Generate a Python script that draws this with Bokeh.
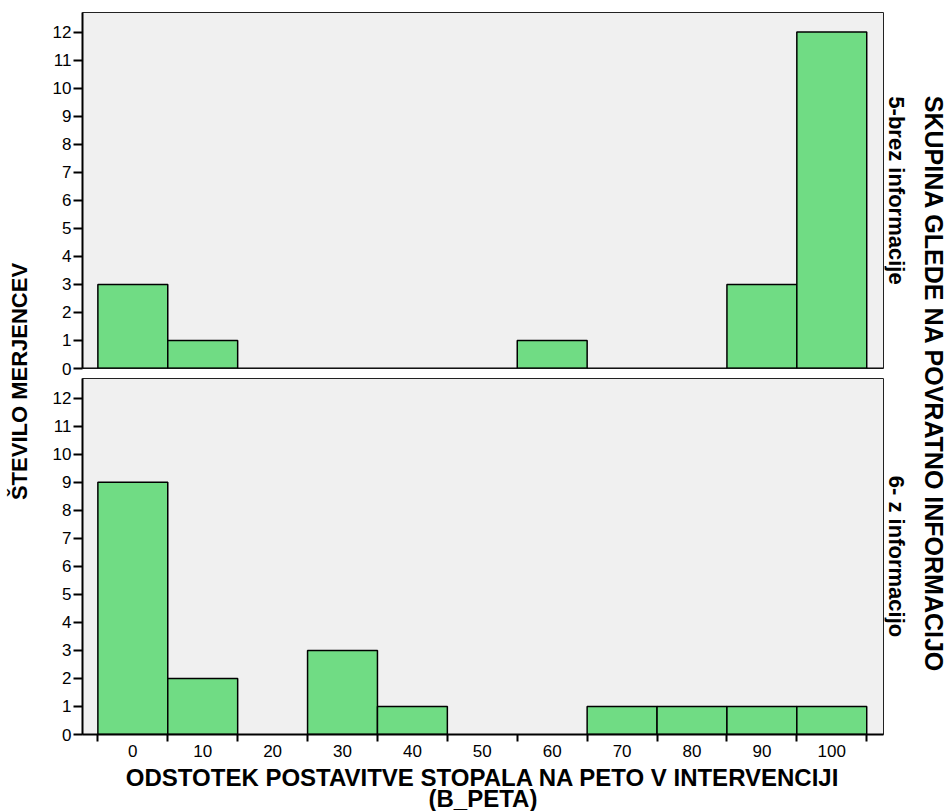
import numpy as np
from bokeh.plotting import figure
from bokeh.layouts import row, column
from bokeh.models import FixedTicker, Label, Range1d, Span, ColumnDataSource
from bokeh.embed import file_html
from bokeh.resources import INLINE

# ---- data ----
bin_centers = [0, 10, 20, 30, 40, 50, 60, 70, 80, 90, 100]
counts_brez = [3, 1, 0, 0, 0, 0, 1, 0, 0, 3, 12]     # 5-brez informacije
counts_z = [9, 2, 0, 3, 1, 0, 0, 1, 1, 1, 1]         # 6- z informacijo
bin_edges = [-5, 5, 15, 25, 35, 45, 55, 65, 75, 85, 95, 105]
y_ticks = list(range(0, 13))
panel_labels = ["5-brez informacije", "6- z informacijo"]
x_title = "ODSTOTEK POSTAVITVE STOPALA NA PETO V INTERVENCIJI\n(B_PETA)"
y_title = "ŠTEVILO MERJENCEV"
group_title = "SKUPINA GLEDE NA POVRATNO INFORMACIJO"
bin_width = 10

FONT = "Liberation Sans"
BAR = "#70DC84"
PANEL_BG = "#F0F0F0"

xr = Range1d(-7.2, 107.4)
Y_END = 12.7
FRAME_W, FRAME_H = 801, 356


def panel(counts, show_x, top_border, bottom_border):
    p = figure(frame_width=FRAME_W, frame_height=FRAME_H, x_range=xr,
               y_range=Range1d(0, Y_END), output_backend="svg",
               toolbar_location=None,
               x_axis_location="below" if show_x else None,
               min_border_left=42, min_border_right=1,
               min_border_top=top_border, min_border_bottom=bottom_border)
    p.background_fill_color = PANEL_BG
    p.border_fill_color = "white"
    p.outline_line_color = "#222222"
    p.outline_line_width = 1
    p.grid.visible = False

    xs = [c for c, n in zip(bin_centers, counts) if n > 0]
    ns = [n for n in counts if n > 0]
    src = ColumnDataSource(dict(x=xs, top=ns))
    p.vbar(x="x", top="top", bottom=0, width=bin_width, source=src,
           fill_color=BAR, line_color="black", line_width=1.5)

    ya = p.yaxis[0]
    ya.ticker = FixedTicker(ticks=y_ticks)
    ya.major_tick_in = 0
    ya.major_tick_out = 9
    ya.minor_tick_in = 0
    ya.minor_tick_out = 0
    ya.major_tick_line_width = 2
    ya.axis_line_width = 2
    ya.major_label_text_font = FONT
    ya.major_label_text_font_size = "17px"
    ya.major_label_text_color = "black"
    ya.major_label_standoff = 2

    if show_x:
        xa = p.xaxis[0]
        xa.ticker = FixedTicker(ticks=bin_centers, minor_ticks=bin_edges)
        xa.major_tick_in = 0
        xa.major_tick_out = 7
        xa.major_tick_line_color = None
        xa.minor_tick_in = 0
        xa.minor_tick_out = 7
        xa.minor_tick_line_color = "black"
        xa.minor_tick_line_width = 2
        xa.axis_line_width = 2
        xa.major_label_text_font = FONT
        xa.major_label_text_font_size = "17px"
        xa.major_label_text_color = "black"
        xa.major_label_standoff = 3
        xa.axis_label = x_title
        xa.axis_label_text_font = FONT
        xa.axis_label_text_font_size = "24px"
        xa.axis_label_text_font_style = "bold"
        xa.axis_label_text_color = "black"
        xa.axis_label_text_line_height = 0.78
        xa.axis_label_standoff = 4
    else:
        p.add_layout(Span(location=0, dimension="width",
                          line_color="black", line_width=2))
    return p


top = panel(counts_brez, False, 12, 10)
bot = panel(counts_z, True, 0, 0)

H = 808


def side(width, texts):
    p = figure(width=width, height=H, x_range=Range1d(0, width),
               y_range=Range1d(0, H), x_axis_location=None,
               y_axis_location=None, toolbar_location=None,
               output_backend="svg", min_border=0)
    p.outline_line_color = None
    p.background_fill_color = "white"
    p.border_fill_color = "white"
    p.grid.visible = False
    for text, xpos, ypage, angle, size in texts:
        p.add_layout(Label(x=xpos, y=H - ypage, text=text, angle=angle,
                           text_align="center", text_baseline="middle",
                           text_font=FONT, text_font_size=size,
                           text_font_style="bold", text_color="black"))
    return p


left = side(40, [(y_title, 19, 381, np.pi / 2, "22px")])
right = side(64, [
    (panel_labels[0], 12, 190, -np.pi / 2, "22px"),
    (panel_labels[1], 12, 556, -np.pi / 2, "22px"),
    (group_title, 49, 384, -np.pi / 2, "25px"),
])

layout = row(left, column(top, bot), right)

open("out.html", "w").write(file_html(layout, INLINE))
